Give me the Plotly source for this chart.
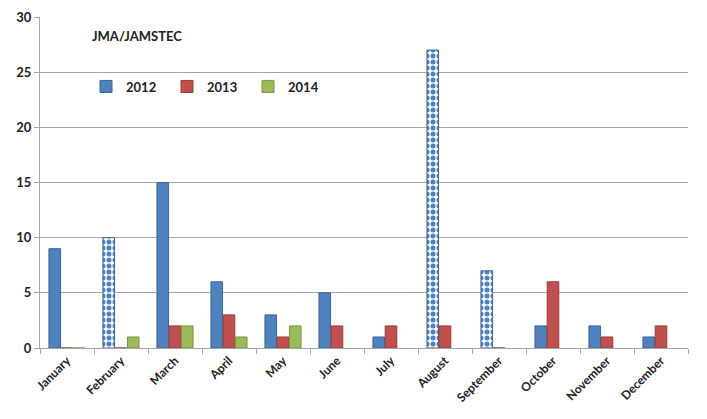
import plotly.graph_objects as go

months = ["January", "February", "March", "April", "May", "June",
          "July", "August", "September", "October", "November", "December"]

y2012 = [9, 10, 15, 6, 3, 5, 1, 27, 7, 2, 2, 1]
y2013 = [0, 0, 2, 3, 1, 2, 2, 2, 0, 6, 1, 2]
y2014 = [0, 1, 2, 1, 2, None, None, None, None, None, None, None]

# months where the 2012 bar is drawn checkered
checkered_2012 = ["", ".", "", "", "", "", "", ".", ".", "", "", ""]

BLUE = "#4F81BD"
RED = "#C0504D"
GREEN = "#9BBB59"
FONT = "Lato, 'Open Sans', Arial, sans-serif"

fig = go.Figure()

fig.add_trace(go.Bar(
    x=months, y=y2012, name="2012",
    marker=dict(
        color=BLUE,
        line=dict(color="#3A6597", width=1),
        pattern=dict(shape=checkered_2012, fillmode="replace",
                     bgcolor="white", fgcolor=BLUE, size=6, solidity=0.55),
    ),
))
fig.add_trace(go.Bar(
    x=months, y=y2013, name="2013",
    marker=dict(color=RED, line=dict(color="#9A3B39", width=1)),
))
fig.add_trace(go.Bar(
    x=months, y=y2014, name="2014",
    marker=dict(color=GREEN, line=dict(color="#7A9544", width=1)),
))

# page body adds an 8px margin, so the figure is a bit smaller than the window
fig.update_layout(
    width=699, height=411,
    margin=dict(l=32, r=19, t=9, b=71, autoexpand=False),
    paper_bgcolor="white",
    plot_bgcolor="white",
    barmode="group",
    bargap=0.32,
    bargroupgap=0.05,
    font=dict(family=FONT, size=13, color="#222222"),
    showlegend=True,
    legend=dict(
        orientation="h",
        x=0.071, y=0.79, xanchor="left", yanchor="middle",
        font=dict(family=FONT, size=13, color="#222222", weight="bold"),
        entrywidth=36,
        itemwidth=30,
        bgcolor="rgba(0,0,0,0)",
    ),
    annotations=[dict(
        text="<b>JMA/JAMSTEC</b>", xref="paper", yref="paper",
        x=0.077, y=0.943, xanchor="left", yanchor="middle", showarrow=False,
        font=dict(family=FONT, size=13, color="#222222"),
    )],
    xaxis=dict(
        automargin=False,
        showline=True, linecolor="#A6A6A6", linewidth=1,
        ticks="outside", tickson="boundaries", ticklen=5, tickcolor="#A6A6A6",
        tickangle=-45,
        tickfont=dict(family=FONT, size=12, color="#222222", weight="bold"),
        showgrid=False,
    ),
    yaxis=dict(
        automargin=False,
        range=[0, 30], dtick=5,
        showline=True, linecolor="#A6A6A6", linewidth=1,
        ticks="outside", ticklen=5, tickcolor="#A6A6A6",
        gridcolor="#A6A6A6", gridwidth=1,
        zeroline=False,
        tickfont=dict(family=FONT, size=13, color="#222222", weight="bold"),
    ),
)

fig.write_html("out.html")
